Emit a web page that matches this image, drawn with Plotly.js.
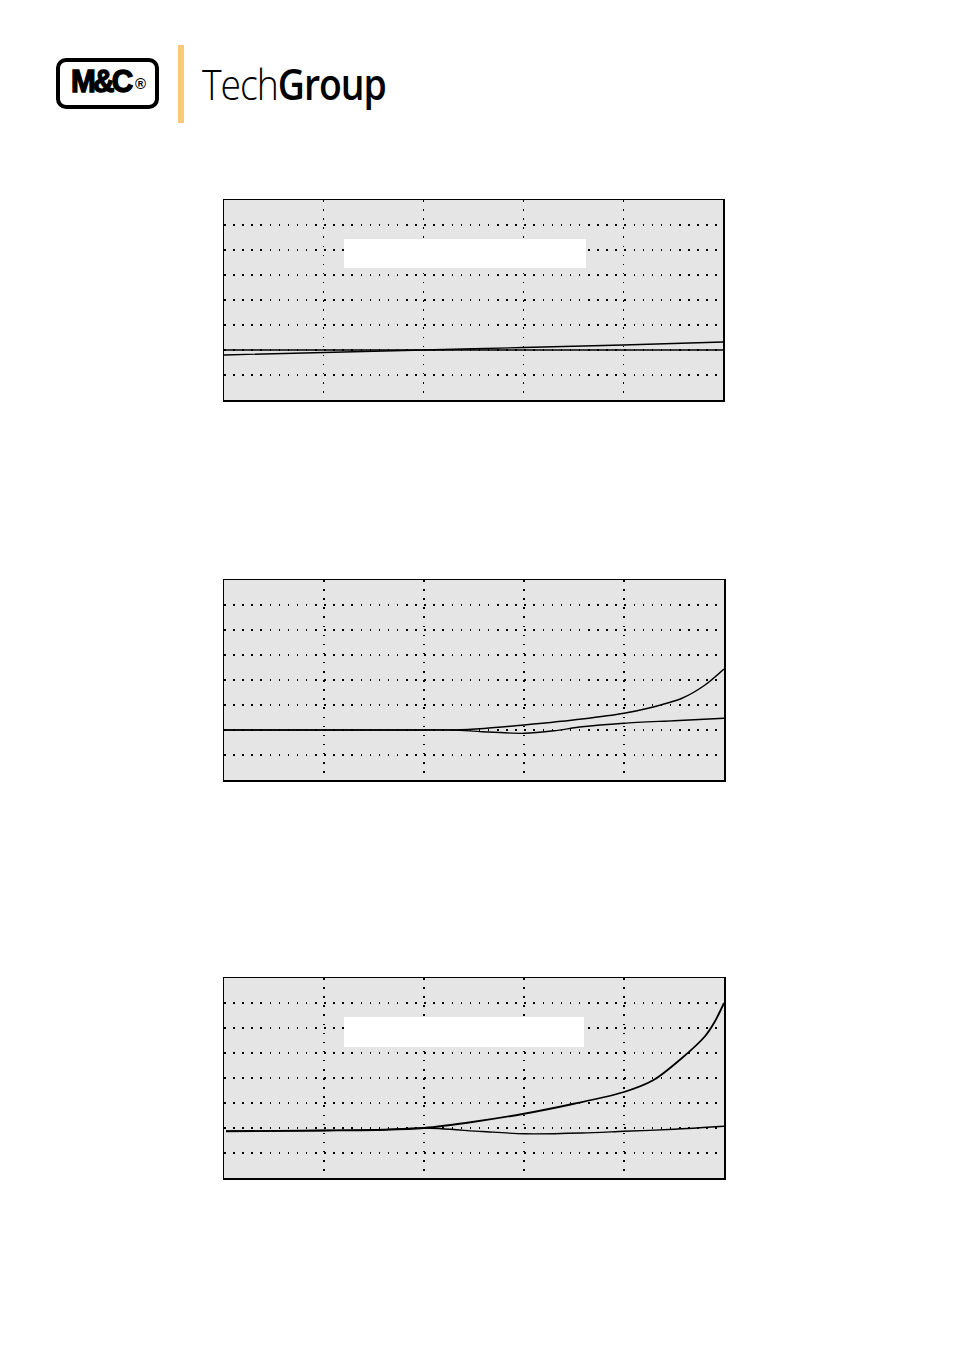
<!DOCTYPE html>
<html>
<head>
<meta charset="utf-8">
<script src="https://cdn.plot.ly/plotly-3.0.1.min.js"></script>
<style>
  html, body { margin: 0; padding: 0; background: #fff; }
  #wrap { position: relative; width: 954px; height: 1350px; }
  #chart { position: absolute; left: 0; top: 0; width: 954px; height: 1350px; }
  #logo-box { position: absolute; left: 56px; top: 58px; width: 95px; height: 43px;
    border: 4.5px solid #000; border-radius: 10px; background: #fff; z-index: 2; }
  #logo-mc { position: absolute; left: 71px; top: 65px; z-index: 3;
    font-family: "Liberation Sans", Arial, sans-serif; font-weight: bold; font-size: 32px;
    letter-spacing: -3px; color: #000; line-height: 32px; -webkit-text-stroke: 1.4px #000;
    transform: scaleX(0.93); transform-origin: left; }
  #logo-r { position: absolute; left: 135px; top: 76px; z-index: 3;
    font-family: "Liberation Sans", Arial, sans-serif; font-weight: bold; font-size: 15px;
    line-height: 15px; color: #000; }
  #bar { position: absolute; left: 178px; top: 45px; width: 6px; height: 78px; background: #fdc979; z-index: 2; }
  #tg { position: absolute; left: 202px; top: 62px; z-index: 3; font-family: "Open Sans", sans-serif;
    font-size: 43px; color: #000; letter-spacing: -1.2px; line-height: 43px;
    transform: scaleX(0.87); transform-origin: left; white-space: nowrap; }
  #tg .l { font-weight: 300; }
  #tg .b { font-weight: 600; }
</style>
</head>
<body>
<div id="wrap">
  <div id="chart"></div>
  <div id="logo-box"></div>
  <div id="logo-mc">M&amp;C</div>
  <div id="logo-r">®</div>
  <div id="bar"></div>
  <div id="tg"><span class="l">Tech</span><span class="b">Group</span></div>
</div>
<script>
// ---- Data (x in grid units 0..5, y in grid units 0..8) ----
const p1_x = [0, 1, 2, 3, 4, 5];
const p1_flat = [2.0, 2.0, 2.0, 2.0, 2.0, 2.0];
const p1_rise = [1.8, 1.9, 2.0, 2.1, 2.2, 2.32];

const p2_upper_x = [0, 1, 2, 2.3, 2.6, 3.0, 3.58, 4.0, 4.24, 4.58, 4.81, 5.0];
const p2_upper_y = [2.0, 2.0, 2.0, 2.0, 2.06, 2.2, 2.44, 2.67, 2.87, 3.27, 3.8, 4.44];
const p2_lower_x = [0, 1, 2, 2.3, 2.58, 3.0, 3.3, 3.58, 4.0, 4.5, 5.0];
const p2_lower_y = [2.0, 2.0, 2.0, 2.0, 1.93, 1.87, 1.97, 2.13, 2.27, 2.37, 2.47];

const p3_upper_x = [0.02, 1, 1.6, 2, 2.5, 3, 3.5, 4, 4.3, 4.58, 4.81, 4.91, 5];
const p3_upper_y = [1.87, 1.9, 1.93, 2.0, 2.25, 2.57, 2.97, 3.44, 3.93, 4.8, 5.67, 6.27, 7.0];
const p3_lower_x = [0.02, 1, 1.6, 2, 2.58, 3, 3.58, 4, 4.5, 5];
const p3_lower_y = [1.87, 1.9, 1.93, 2.0, 1.86, 1.77, 1.8, 1.87, 1.95, 2.07];

const W = 954, H = 1350;
const px = v => v / W;
const py = v => 1 - v / H;

function ln(x, y, xa, ya, w) {
  return { x: x, y: y, xaxis: xa, yaxis: ya, mode: 'lines', type: 'scatter',
    line: { color: '#000', width: w || 1.3, shape: 'spline', smoothing: 0.8 },
    hoverinfo: 'skip', showlegend: false };
}

const traces = [
  ln(p1_x, p1_flat, 'x', 'y'),
  ln(p1_x, p1_rise, 'x', 'y'),
  ln(p2_upper_x, p2_upper_y, 'x2', 'y2', 1.5),
  ln(p2_lower_x, p2_lower_y, 'x2', 'y2', 1.3),
  ln(p3_upper_x, p3_upper_y, 'x3', 'y3', 1.8),
  ln(p3_lower_x, p3_lower_y, 'x3', 'y3', 1.3)
];

const GRIDDASH = '1.5px,7.6px';
function xax(d, anchor) {
  return { domain: d, anchor: anchor, range: [0, 5], dtick: 1, tick0: 0,
    showgrid: true, gridcolor: '#000', gridwidth: 1.3, griddash: GRIDDASH,
    zeroline: false, showticklabels: false, ticks: '',
    showline: true, mirror: true, linecolor: '#000', linewidth: 1.5, fixedrange: true };
}
function yax(d, anchor) {
  return { domain: d, anchor: anchor, range: [0, 8], dtick: 1, tick0: 0,
    showgrid: true, gridcolor: '#000', gridwidth: 1.3, griddash: GRIDDASH,
    zeroline: false, showticklabels: false, ticks: '',
    showline: true, mirror: true, linecolor: '#000', linewidth: 1.5, fixedrange: true };
}

const layout = {
  width: W, height: H,
  margin: { l: 0, r: 0, t: 0, b: 0, pad: 0 },
  paper_bgcolor: '#fff', plot_bgcolor: '#e5e5e5',
  showlegend: false,
  xaxis: xax([px(224), px(723)], 'y'),
  yaxis: yax([py(400), py(200)], 'x'),
  xaxis2: xax([px(224), px(724)], 'y2'),
  yaxis2: yax([py(780), py(580)], 'x2'),
  xaxis3: xax([px(224), px(724)], 'y3'),
  yaxis3: yax([py(1178), py(978)], 'x3'),
  shapes: [
    { type: 'rect', xref: 'paper', yref: 'paper', x0: px(344), x1: px(586), y0: py(268), y1: py(239),
      fillcolor: '#fff', line: { width: 0 }, layer: 'above' },
    { type: 'rect', xref: 'paper', yref: 'paper', x0: px(344), x1: px(584), y0: py(1047), y1: py(1017),
      fillcolor: '#fff', line: { width: 0 }, layer: 'above' }
  ]
};

Plotly.newPlot('chart', traces, layout, { staticPlot: true, displayModeBar: false });
</script>
</body>
</html>
